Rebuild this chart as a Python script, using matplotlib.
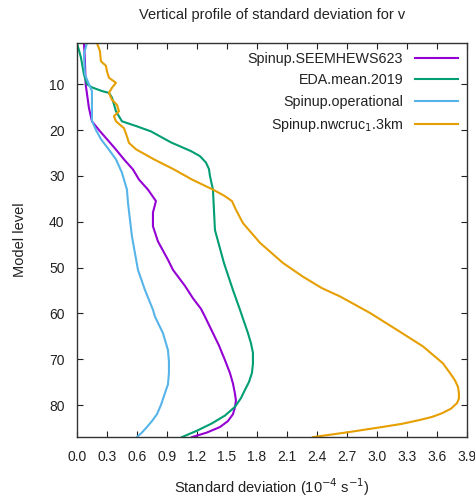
import matplotlib
matplotlib.use("Agg")
import matplotlib.pyplot as plt

plt.rcParams['font.family'] = ['Liberation Sans', 'DejaVu Sans']

# Model levels and std-dev values (1e-4 s^-1)
lev_purple = [1, 5, 10, 15.2, 18.1, 20, 22, 24, 26.4, 28.6, 30.8, 33, 35.5, 38, 41, 44.3, 48.3, 50.5, 54, 56.7, 59, 60.7, 64.3, 67, 70.2, 73, 75.3, 77.5, 79, 80.5, 82, 83.5, 84.8, 86, 87]
val_purple = [0.07, 0.08, 0.087, 0.12, 0.15, 0.22, 0.30, 0.38, 0.47, 0.56, 0.62, 0.71, 0.79, 0.76, 0.76, 0.81, 0.91, 0.96, 1.08, 1.16, 1.24, 1.28, 1.36, 1.42, 1.48, 1.53, 1.56, 1.58, 1.59, 1.58, 1.56, 1.51, 1.43, 1.30, 1.15]

lev_green = [1, 4.2, 7.9, 10, 10.7, 11.5, 11.9, 12.9, 15.9, 18.1, 19.2, 20.3, 21.5, 22.7, 24.6, 25.7, 27.1, 28.5, 30, 33, 41.8, 49, 54.9, 59.2, 64.3, 66.5, 68.6, 71, 73, 75, 76.7, 78.5, 80.4, 82.3, 84, 85.6, 87]
val_green = [0.0, 0.04, 0.07, 0.10, 0.15, 0.25, 0.32, 0.35, 0.39, 0.45, 0.60, 0.74, 0.84, 0.94, 1.14, 1.23, 1.29, 1.32, 1.33, 1.36, 1.38, 1.47, 1.56, 1.63, 1.71, 1.74, 1.76, 1.76, 1.75, 1.72, 1.68, 1.64, 1.58, 1.48, 1.35, 1.20, 1.05]

lev_blue = [1, 3.4, 7.9, 10, 11.5, 14, 18, 20, 22, 24, 26.4, 29.3, 33, 35.8, 43.2, 50.5, 54.9, 59.2, 60.7, 64.3, 68, 70.5, 73, 75.5, 77.4, 80, 82, 83.5, 84.8, 86, 87]
val_blue = [0.10, 0.07, 0.08, 0.12, 0.15, 0.15, 0.15, 0.19, 0.24, 0.31, 0.39, 0.45, 0.50, 0.51, 0.55, 0.61, 0.68, 0.76, 0.78, 0.86, 0.91, 0.92, 0.92, 0.91, 0.88, 0.84, 0.80, 0.75, 0.70, 0.65, 0.60]

lev_orange = [1, 2.8, 5, 6, 7.2, 8.6, 9.7, 10.8, 11.9, 13.4, 14.5, 15.9, 17, 18.1, 19.6, 21.4, 22.8, 24.2, 26.4, 28.6, 30.8, 33, 34.3, 35.5, 37.4, 40.3, 44.6, 49, 52, 54.5, 56.3, 59.9, 63.6, 67.2, 70.9, 73, 74.6, 76, 77.4, 78.6, 79.6, 80.8, 81.8, 82.6, 83.3, 84.1, 84.8, 85.9, 87]
val_orange = [0.20, 0.23, 0.24, 0.29, 0.30, 0.32, 0.39, 0.35, 0.32, 0.35, 0.40, 0.42, 0.37, 0.39, 0.47, 0.50, 0.52, 0.59, 0.77, 0.97, 1.15, 1.36, 1.47, 1.55, 1.59, 1.66, 1.83, 2.06, 2.26, 2.45, 2.63, 2.93, 3.20, 3.46, 3.66, 3.73, 3.78, 3.81, 3.82, 3.82, 3.80, 3.74, 3.65, 3.55, 3.42, 3.25, 3.05, 2.72, 2.36]

labels = ["Spinup.SEEMHEWS623", "EDA.mean.2019", "Spinup.operational", "Spinup.nwcruc$_{1}$.3km"]
colors = ["#9400d3", "#009e73", "#56b4e9", "#e69f00"]

xticks = [0.0, 0.3, 0.6, 0.9, 1.2, 1.5, 1.8, 2.1, 2.4, 2.7, 3.0, 3.3, 3.6, 3.9]
yticks = [10, 20, 30, 40, 50, 60, 70, 80]

fig = plt.figure(figsize=(4.75, 4.99), dpi=100)
ax = fig.add_axes([0.162, 0.124, 0.821, 0.79])

series = [(val_purple, lev_purple), (val_green, lev_green), (val_blue, lev_blue), (val_orange, lev_orange)]
for (v, l), lab, c in zip(series, labels, colors):
    ax.plot(v, l, color=c, lw=1.5, label=lab)

ax.set_xlim(0, 3.9)
ax.set_ylim(87, 1)
ax.set_xticks(xticks)
ax.set_xticklabels([f"{t:.1f}" for t in xticks])
ax.set_yticks(yticks)
ax.tick_params(direction='in', top=True, right=True, length=4, labelsize=10, pad=9, colors='#222222')
for s in ax.spines.values():
    s.set_color('#333333')
    s.set_linewidth(1.0)

ax.set_xlabel("Standard deviation (10$^{-4}$ s$^{-1}$)", fontsize=10.5, labelpad=9, color='#222222')
ax.set_ylabel("Model level", fontsize=10.5, labelpad=16, color='#222222')
ax.set_title("Vertical profile of standard deviation for v", fontsize=10.5, pad=17, color='#222222')

leg = ax.legend(loc='upper right', frameon=False, markerfirst=False, fontsize=10.3,
                handlelength=3.0, labelspacing=0.5, borderaxespad=0.25)
for t in leg.get_texts():
    t.set_color('#222222')

fig.savefig("out.png", dpi=100)
